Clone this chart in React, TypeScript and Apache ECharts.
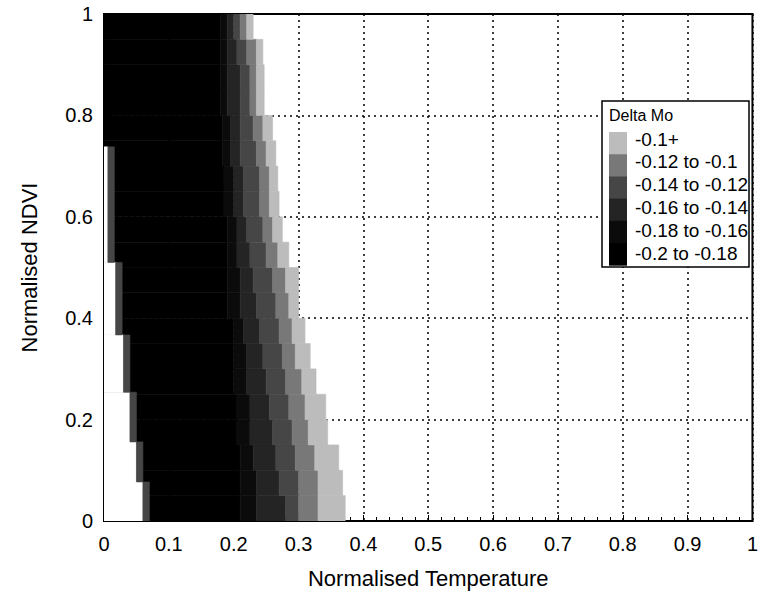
import React, { useEffect, useRef } from "react";
import * as echarts from "echarts";

// Legend levels (Delta Mo), darkest first
const levelNames = ["-0.2 to -0.18", "-0.18 to -0.16", "-0.16 to -0.14", "-0.14 to -0.12", "-0.12 to -0.1", "-0.1+"];
const levelColors = ["#000000", "#0b0b0b", "#242424", "#464646", "#787878", "#bcbcbc"];
const legendOrder = [5, 4, 3, 2, 1, 0];

// Rows of NDVI (bottom of each row), each 0.05 high
const rowBottoms = [0, 0.05, 0.1, 0.15, 0.2, 0.25, 0.3, 0.35, 0.4, 0.45, 0.5, 0.55, 0.6, 0.65, 0.7, 0.75, 0.8, 0.85, 0.9, 0.95];
const rowHeight = 0.05;
// Normalised temperature where each level starts, per row
const start018 = [0.21, 0.21, 0.21, 0.205, 0.205, 0.2, 0.2, 0.2, 0.19, 0.19, 0.19, 0.19, 0.185, 0.185, 0.183, 0.183, 0.18, 0.18, 0.18, 0.18];
const start016 = [0.235, 0.235, 0.23, 0.225, 0.225, 0.22, 0.22, 0.215, 0.21, 0.21, 0.205, 0.205, 0.2, 0.2, 0.195, 0.195, 0.19, 0.19, 0.19, 0.19];
const start014 = [0.28, 0.27, 0.265, 0.26, 0.255, 0.25, 0.245, 0.24, 0.235, 0.23, 0.225, 0.22, 0.215, 0.215, 0.21, 0.21, 0.21, 0.21, 0.205, 0.2];
const start012 = [0.3, 0.3, 0.295, 0.29, 0.285, 0.28, 0.275, 0.27, 0.265, 0.26, 0.25, 0.245, 0.24, 0.24, 0.235, 0.23, 0.225, 0.225, 0.22, 0.21];
const start010 = [0.33, 0.33, 0.325, 0.315, 0.31, 0.305, 0.295, 0.29, 0.285, 0.28, 0.268, 0.26, 0.255, 0.255, 0.25, 0.245, 0.235, 0.235, 0.235, 0.22];
const outerEdge = [0.372, 0.368, 0.362, 0.345, 0.342, 0.327, 0.318, 0.31, 0.3, 0.3, 0.285, 0.275, 0.27, 0.268, 0.265, 0.26, 0.247, 0.247, 0.245, 0.23];

// Left (empty) edge of the domain: steps in NDVI and the temperature where data begin
const leftStepBottoms = [0, 0.077, 0.156, 0.254, 0.367, 0.51, 0.738];
const leftStepTops = [0.077, 0.156, 0.254, 0.367, 0.51, 0.738, 1];
const leftEdgeX = [0.06, 0.05, 0.04, 0.03, 0.018, 0.006, 0];
const edgeStripeWidth = 0.01;
const edgeStripeLevel = 3;

const xTicks = [0, 0.1, 0.2, 0.3, 0.4, 0.5, 0.6, 0.7, 0.8, 0.9, 1];
const yTicks = [0, 0.2, 0.4, 0.6, 0.8, 1];

const WHITE = 6;
const FONT = "'Liberation Sans', Arial, Helvetica, sans-serif";

function buildBands() {
  const out: number[][] = [];
  rowBottoms.forEach((yb, i) => {
    const yt = yb + rowHeight;
    const edges = [0, start018[i], start016[i], start014[i], start012[i], start010[i], outerEdge[i]];
    for (let l = 0; l < 6; l++) {
      if (edges[l + 1] > edges[l]) out.push([edges[l], edges[l + 1], yb, yt, l]);
    }
  });
  return out;
}

function buildLeftEdge() {
  const out: number[][] = [];
  leftStepBottoms.forEach((yb, j) => {
    const yt = leftStepTops[j];
    const xm = leftEdgeX[j];
    if (xm > 0) {
      out.push([0, xm, yb, yt, WHITE]);
      out.push([xm, xm + edgeStripeWidth, yb, yt, edgeStripeLevel]);
    }
  });
  return out;
}

const colorOf = (l: number) => (l === WHITE ? "#ffffff" : levelColors[l]);

const renderRect = (params: any, api: any) => {
  const x0 = api.value(0);
  const x1 = api.value(1);
  const y0 = api.value(2);
  const y1 = api.value(3);
  const lv = api.value(4);
  const p0 = api.coord([x0, y1]);
  const p1 = api.coord([x1, y0]);
  const c = colorOf(lv);
  return {
    type: "rect",
    shape: { x: p0[0], y: p0[1], width: p1[0] - p0[0], height: p1[1] - p0[1] },
    style: { fill: c, stroke: c, lineWidth: 0.6 },
  };
};

export default function App() {
  const ref = useRef<HTMLDivElement>(null);
  useEffect(() => {
    if (!ref.current) return;
    const chart = echarts.init(ref.current, undefined, { renderer: "svg" });

    const legendX = 602;
    const legendY = 101;
    const swTop = 132;
    const swH = 22.2;
    const graphics: any[] = [
      {
        type: "rect",
        z: 100,
        shape: { x: legendX, y: legendY, width: 147, height: 166 },
        style: { fill: "#ffffff", stroke: "#000000", lineWidth: 1.5 },
      },
      {
        type: "text",
        z: 101,
        x: 609,
        y: 115,
        style: { text: "Delta Mo", font: `16px ${FONT}`, fill: "#000", verticalAlign: "middle" },
      },
    ];
    legendOrder.forEach((l, k) => {
      graphics.push({
        type: "rect",
        z: 101,
        shape: { x: 609, y: swTop + k * swH, width: 18, height: swH + 0.5 },
        style: { fill: levelColors[l] },
      });
      graphics.push({
        type: "text",
        z: 101,
        x: 635,
        y: 139 + k * 22.8,
        style: { text: levelNames[l], font: `19px ${FONT}`, fill: "#000", verticalAlign: "middle" },
      });
    });

    chart.setOption({
      animation: false,
      backgroundColor: "#ffffff",
      grid: {
        left: 104,
        right: 5,
        top: 14,
        bottom: 81,
        show: true,
        borderColor: "#000",
        borderWidth: 2,
        backgroundColor: "transparent",
      },
      xAxis: {
        type: "value",
        min: 0,
        max: 1,
        interval: 0.1,
        name: "Normalised Temperature",
        nameLocation: "middle",
        nameGap: 46,
        nameTextStyle: { fontSize: 22, fontFamily: FONT, color: "#000" },
        axisLine: { lineStyle: { color: "#000", width: 2 } },
        axisTick: { inside: true, length: 6, lineStyle: { color: "#000", width: 1 } },
        minorTick: { show: true, splitNumber: 5, length: 4, lineStyle: { color: "#000", width: 1 } },
        splitLine: { show: true, lineStyle: { color: "#000", type: [2, 4], width: 1.5 } },
        axisLabel: {
          fontSize: 20,
          fontFamily: FONT,
          color: "#000",
          margin: 13,
          formatter: (v: number) => {
            const t = xTicks.find((a) => Math.abs(a - v) < 1e-9);
            return t === undefined ? "" : String(t);
          },
        },
      },
      yAxis: {
        type: "value",
        min: 0,
        max: 1,
        interval: 0.2,
        name: "Normalised NDVI",
        nameLocation: "middle",
        nameGap: 64,
        nameTextStyle: { fontSize: 22, fontFamily: FONT, color: "#000" },
        axisLine: { lineStyle: { color: "#000", width: 2 } },
        axisTick: { inside: true, length: 6, lineStyle: { color: "#000", width: 1 } },
        minorTick: { show: true, splitNumber: 5, length: 4, lineStyle: { color: "#000", width: 1 } },
        splitLine: { show: true, lineStyle: { color: "#000", type: [2, 4], width: 1.5 } },
        axisLabel: {
          fontSize: 20,
          fontFamily: FONT,
          color: "#000",
          margin: 11,
          formatter: (v: number) => {
            const t = yTicks.find((a) => Math.abs(a - v) < 1e-9);
            return t === undefined ? "" : String(t);
          },
        },
      },
      series: [
        {
          type: "custom",
          name: "bands",
          coordinateSystem: "cartesian2d",
          clip: true,
          renderItem: renderRect,
          encode: { x: [0, 1], y: [2, 3] },
          data: buildBands(),
          z: 2,
        },
        {
          type: "custom",
          name: "edge",
          coordinateSystem: "cartesian2d",
          clip: true,
          renderItem: renderRect,
          encode: { x: [0, 1], y: [2, 3] },
          data: buildLeftEdge(),
          z: 3,
        },
      ],
      graphic: graphics,
    });
    return () => chart.dispose();
  }, []);
  return <div ref={ref} style={{ position: "fixed", left: 0, top: 0, width: 761, height: 602 }} />;
}
